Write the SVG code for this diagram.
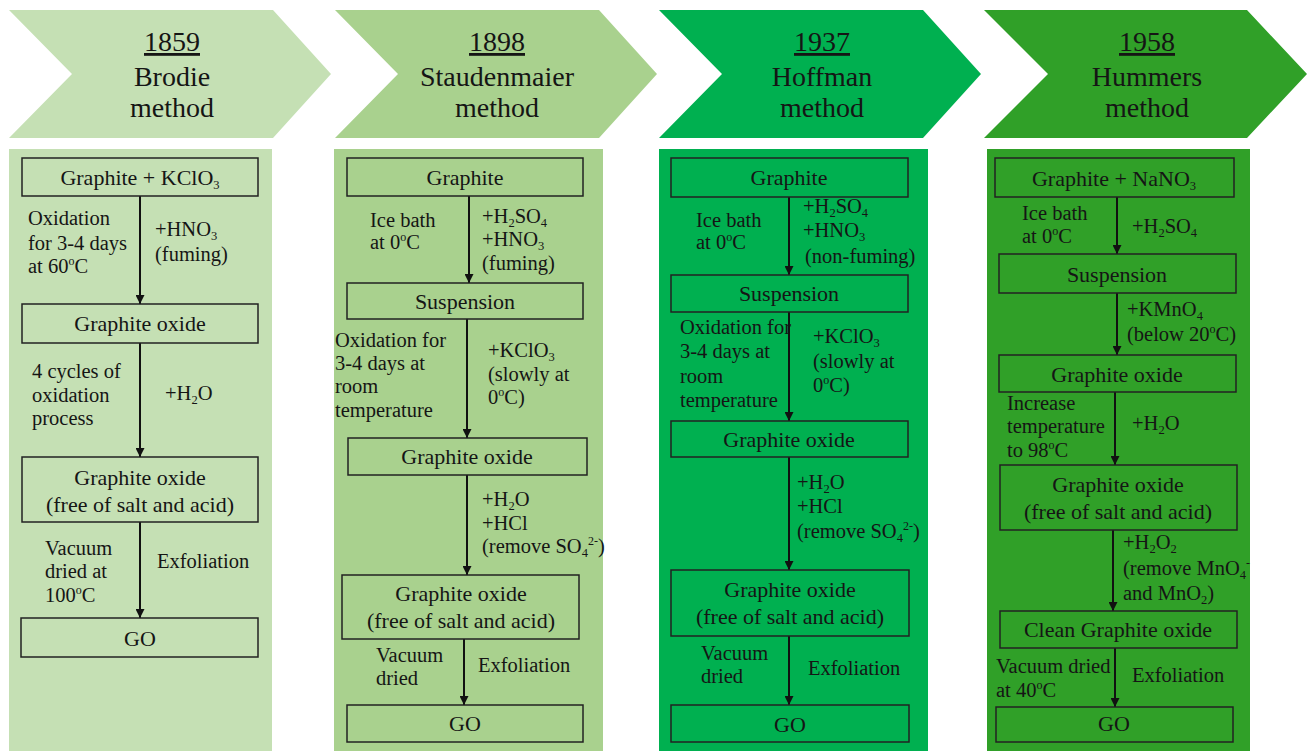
<svg xmlns="http://www.w3.org/2000/svg" width="1310" height="751" viewBox="0 0 1310 751" font-family="Liberation Serif, DejaVu Serif, serif">
<style>
text{font-family:'Liberation Serif','DejaVu Serif',serif;fill:#151515}
.hd{font-size:28px;text-anchor:middle}
.yr{text-decoration:underline}
.bt{font-size:22px;text-anchor:middle}
.an{font-size:20.5px}
.sb{font-size:12.5px}
.sp{font-size:12px}
.box{fill:none;stroke:#222;stroke-width:1.5}
.conn line{stroke:#111;stroke-width:2}
</style>
<defs>
<marker id="ah" viewBox="0 0 10 10" refX="10" refY="5" markerWidth="9" markerHeight="9" markerUnits="userSpaceOnUse" orient="auto"><path d="M0,0 L10,5 L0,10 z" fill="#111"/></marker>
</defs>
<rect width="1310" height="751" fill="#ffffff"/>
<g id="headers">
<g id="h1"><polygon points="9,10 273,10 331,74 273,138 9,138 72,74" fill="#c5e0b4"/>
<text class="hd yr" x="172" y="51">1859</text><text class="hd" x="172" y="86">Brodie</text><text class="hd" x="172" y="117">method</text></g>
<g id="h2"><polygon points="335,10 599,10 657,74 599,138 335,138 398,74" fill="#a9d18e"/>
<text class="hd yr" x="497" y="51">1898</text><text class="hd" x="497" y="86">Staudenmaier</text><text class="hd" x="497" y="117">method</text></g>
<g id="h3"><polygon points="659,10 923,10 981,74 923,138 659,138 722,74" fill="#00b050"/>
<text class="hd yr" x="822" y="51">1937</text><text class="hd" x="822" y="86">Hoffman</text><text class="hd" x="822" y="117">method</text></g>
<g id="h4"><polygon points="984,10 1247,10 1307,74 1247,138 984,138 1048,74" fill="#30a028"/>
<text class="hd yr" x="1147" y="51">1958</text><text class="hd" x="1147" y="86">Hummers</text><text class="hd" x="1147" y="117">method</text></g>
</g>
<g id="panels">
<rect x="9" y="149" width="263" height="602" fill="#c5e0b4"/>
<rect x="334" y="149" width="269" height="602" fill="#a9d18e"/>
<rect x="659" y="149" width="269" height="602" fill="#00b050"/>
<rect x="987" y="149" width="263" height="602" fill="#30a028"/>
</g>
<g id="connectors" class="conn">
<line x1="140" y1="196" x2="140" y2="304" marker-end="url(#ah)"/>
<line x1="140" y1="343" x2="140" y2="457" marker-end="url(#ah)"/>
<line x1="140" y1="522" x2="140" y2="618" marker-end="url(#ah)"/>
<line x1="469" y1="196" x2="469" y2="283" marker-end="url(#ah)"/>
<line x1="467" y1="319" x2="467" y2="438" marker-end="url(#ah)"/>
<line x1="467" y1="475" x2="467" y2="575" marker-end="url(#ah)"/>
<line x1="464" y1="639" x2="464" y2="705" marker-end="url(#ah)"/>
<line x1="789" y1="197" x2="789" y2="275" marker-end="url(#ah)"/>
<line x1="789" y1="312" x2="789" y2="421" marker-end="url(#ah)"/>
<line x1="789" y1="457" x2="789" y2="570" marker-end="url(#ah)"/>
<line x1="789" y1="636" x2="789" y2="705" marker-end="url(#ah)"/>
<line x1="1117" y1="197" x2="1117" y2="254" marker-end="url(#ah)"/>
<line x1="1117" y1="293" x2="1117" y2="355" marker-end="url(#ah)"/>
<line x1="1115" y1="392" x2="1115" y2="465" marker-end="url(#ah)"/>
<line x1="1113" y1="530" x2="1113" y2="611" marker-end="url(#ah)"/>
<line x1="1115" y1="648" x2="1115" y2="707" marker-end="url(#ah)"/>
</g>
<g id="col1">
<g id="c1n1"><rect class="box" x="22" y="158" width="236" height="38"/><text class="bt" x="140" y="185">Graphite + KClO<tspan class="sb" dy="4">3</tspan></text></g>
<g id="c1l1"><text class="an" x="28" y="225">Oxidation</text><text class="an" x="28" y="250">for 3-4 days</text><text class="an" x="28" y="273">at 60<tspan class="sp" dy="-8">o</tspan><tspan dy="8">C</tspan></text>
<text class="an" x="155" y="236">+HNO<tspan class="sb" dy="4">3</tspan></text><text class="an" x="155" y="261">(fuming)</text></g>
<g id="c1n2"><rect class="box" x="22" y="304" width="236" height="39"/><text class="bt" x="140" y="331">Graphite oxide</text></g>
<g id="c1l2"><text class="an" x="32" y="378">4 cycles of</text><text class="an" x="32" y="402">oxidation</text><text class="an" x="32" y="425">process</text>
<text class="an" x="165" y="400">+H<tspan class="sb" dy="4">2</tspan><tspan dy="-4">O</tspan></text></g>
<g id="c1n3"><rect class="box" x="22" y="457" width="236" height="65"/><text class="bt" x="140" y="485">Graphite oxide</text><text class="bt" x="140" y="512">(free of salt and acid)</text></g>
<g id="c1l3"><text class="an" x="45" y="555">Vacuum</text><text class="an" x="45" y="578">dried at</text><text class="an" x="45" y="602">100<tspan class="sp" dy="-8">o</tspan><tspan dy="8">C</tspan></text>
<text class="an" x="157" y="568">Exfoliation</text></g>
<g id="c1n4"><rect class="box" x="21" y="618" width="237" height="39"/><text class="bt" x="140" y="646">GO</text></g>
</g>
<g id="col2">
<g id="c2n1"><rect class="box" x="347" y="158" width="236" height="38"/><text class="bt" x="465" y="185">Graphite</text></g>
<g id="c2l1"><text class="an" x="370" y="227">Ice bath</text><text class="an" x="370" y="249">at 0<tspan class="sp" dy="-8">o</tspan><tspan dy="8">C</tspan></text>
<text class="an" x="482" y="223">+H<tspan class="sb" dy="4">2</tspan><tspan dy="-4">SO</tspan><tspan class="sb" dy="4">4</tspan></text>
<text class="an" x="482" y="246">+HNO<tspan class="sb" dy="4">3</tspan></text><text class="an" x="482" y="270">(fuming)</text></g>
<g id="c2n2"><rect class="box" x="347" y="283" width="236" height="36"/><text class="bt" x="465" y="309">Suspension</text></g>
<g id="c2l2"><text class="an" x="335" y="347">Oxidation for</text><text class="an" x="335" y="370">3-4 days at</text><text class="an" x="335" y="393">room</text><text class="an" x="335" y="417">temperature</text>
<text class="an" x="488" y="357">+KClO<tspan class="sb" dy="4">3</tspan></text><text class="an" x="488" y="381">(slowly at</text><text class="an" x="488" y="404">0<tspan class="sp" dy="-8">o</tspan><tspan dy="8">C)</tspan></text></g>
<g id="c2n3"><rect class="box" x="348" y="438" width="239" height="37"/><text class="bt" x="467" y="464">Graphite oxide</text></g>
<g id="c2l3"><text class="an" x="482" y="506">+H<tspan class="sb" dy="4">2</tspan><tspan dy="-4">O</tspan></text><text class="an" x="482" y="530">+HCl</text>
<text class="an" x="482" y="553">(remove SO<tspan class="sb" dy="4">4</tspan><tspan class="sp" dy="-12">2-</tspan><tspan dy="8">)</tspan></text></g>
<g id="c2n4"><rect class="box" x="342" y="575" width="237" height="64"/><text class="bt" x="461" y="601">Graphite oxide</text><text class="bt" x="461" y="628">(free of salt and acid)</text></g>
<g id="c2l4"><text class="an" x="376" y="662">Vacuum</text><text class="an" x="376" y="685">dried</text><text class="an" x="478" y="672">Exfoliation</text></g>
<g id="c2n5"><rect class="box" x="347" y="705" width="236" height="37"/><text class="bt" x="465" y="731">GO</text></g>
</g>
<g id="col3">
<g id="c3n1"><rect class="box" x="671" y="158" width="237" height="39"/><text class="bt" x="789" y="185">Graphite</text></g>
<g id="c3l1"><text class="an" x="696" y="227">Ice bath</text><text class="an" x="696" y="249">at 0<tspan class="sp" dy="-8">o</tspan><tspan dy="8">C</tspan></text>
<text class="an" x="803" y="213">+H<tspan class="sb" dy="4">2</tspan><tspan dy="-4">SO</tspan><tspan class="sb" dy="4">4</tspan></text>
<text class="an" x="803" y="237">+HNO<tspan class="sb" dy="4">3</tspan></text><text class="an" x="805" y="263">(non-fuming)</text></g>
<g id="c3n2"><rect class="box" x="671" y="275" width="237" height="37"/><text class="bt" x="789" y="301">Suspension</text></g>
<g id="c3l2"><text class="an" x="680" y="334">Oxidation for</text><text class="an" x="680" y="358">3-4 days at</text><text class="an" x="680" y="383">room</text><text class="an" x="680" y="407">temperature</text>
<text class="an" x="813" y="343">+KClO<tspan class="sb" dy="4">3</tspan></text><text class="an" x="813" y="368">(slowly at</text><text class="an" x="813" y="392">0<tspan class="sp" dy="-8">o</tspan><tspan dy="8">C)</tspan></text></g>
<g id="c3n3"><rect class="box" x="671" y="421" width="237" height="36"/><text class="bt" x="789" y="447">Graphite oxide</text></g>
<g id="c3l3"><text class="an" x="797" y="489">+H<tspan class="sb" dy="4">2</tspan><tspan dy="-4">O</tspan></text><text class="an" x="797" y="513">+HCl</text>
<text class="an" x="797" y="538">(remove SO<tspan class="sb" dy="4">4</tspan><tspan class="sp" dy="-12">2-</tspan><tspan dy="8">)</tspan></text></g>
<g id="c3n4"><rect class="box" x="671" y="570" width="238" height="66"/><text class="bt" x="790" y="597">Graphite oxide</text><text class="bt" x="790" y="624">(free of salt and acid)</text></g>
<g id="c3l4"><text class="an" x="701" y="660">Vacuum</text><text class="an" x="701" y="683">dried</text><text class="an" x="808" y="675">Exfoliation</text></g>
<g id="c3n5"><rect class="box" x="671" y="705" width="238" height="37"/><text class="bt" x="790" y="732">GO</text></g>
</g>
<g id="col4">
<g id="c4n1"><rect class="box" x="995" y="158" width="239" height="39"/><text class="bt" x="1114" y="186">Graphite + NaNO<tspan class="sb" dy="4">3</tspan></text></g>
<g id="c4l1"><text class="an" x="1022" y="220">Ice bath</text><text class="an" x="1022" y="243">at 0<tspan class="sp" dy="-8">o</tspan><tspan dy="8">C</tspan></text>
<text class="an" x="1132" y="233">+H<tspan class="sb" dy="4">2</tspan><tspan dy="-4">SO</tspan><tspan class="sb" dy="4">4</tspan></text></g>
<g id="c4n2"><rect class="box" x="999" y="254" width="237" height="39"/><text class="bt" x="1117" y="282">Suspension</text></g>
<g id="c4l2"><text class="an" x="1127" y="316">+KMnO<tspan class="sb" dy="4">4</tspan></text><text class="an" x="1127" y="341">(below 20<tspan class="sp" dy="-8">o</tspan><tspan dy="8">C)</tspan></text></g>
<g id="c4n3"><rect class="box" x="999" y="355" width="237" height="37"/><text class="bt" x="1117" y="382">Graphite oxide</text></g>
<g id="c4l3"><text class="an" x="1007" y="410">Increase</text><text class="an" x="1007" y="433">temperature</text><text class="an" x="1007" y="457">to 98<tspan class="sp" dy="-8">o</tspan><tspan dy="8">C</tspan></text>
<text class="an" x="1132" y="430">+H<tspan class="sb" dy="4">2</tspan><tspan dy="-4">O</tspan></text></g>
<g id="c4n4"><rect class="box" x="1000" y="465" width="237" height="65"/><text class="bt" x="1118" y="492">Graphite oxide</text><text class="bt" x="1118" y="519">(free of salt and acid)</text></g>
<g id="c4l4"><text class="an" x="1123" y="549">+H<tspan class="sb" dy="4">2</tspan><tspan dy="-4">O</tspan><tspan class="sb" dy="4">2</tspan></text>
<text class="an" x="1123" y="575">(remove MnO<tspan class="sb" dy="4">4</tspan><tspan class="sp" dy="-12">-</tspan></text>
<text class="an" x="1123" y="600">and MnO<tspan class="sb" dy="4">2</tspan><tspan dy="-4">)</tspan></text></g>
<g id="c4n5"><rect class="box" x="1000" y="611" width="237" height="37"/><text class="bt" x="1118" y="637">Clean Graphite oxide</text></g>
<g id="c4l5"><text class="an" x="996" y="673">Vacuum dried</text><text class="an" x="996" y="697">at 40<tspan class="sp" dy="-8">o</tspan><tspan dy="8">C</tspan></text><text class="an" x="1132" y="682">Exfoliation</text></g>
<g id="c4n6"><rect class="box" x="996" y="707" width="237" height="35"/><text class="bt" x="1114" y="731">GO</text></g>
</g>
</svg>
